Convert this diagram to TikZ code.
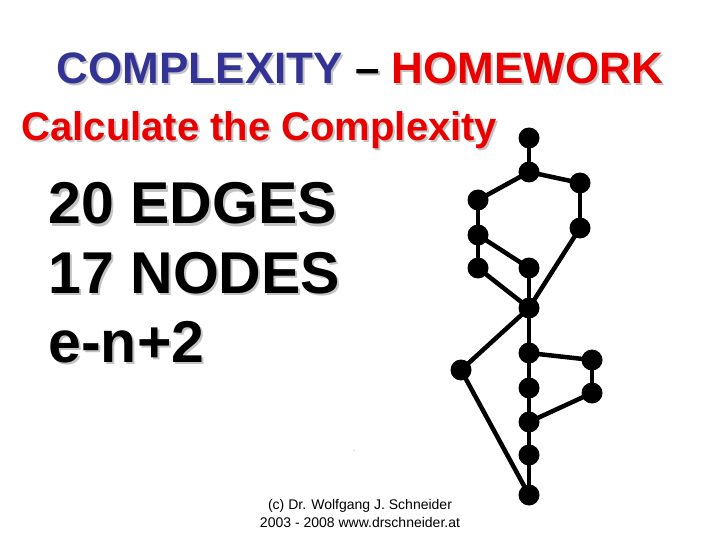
\documentclass[tikz,border=0pt]{standalone}
\usepackage{fontspec}
\setmainfont{Liberation Sans}
\definecolor{titleblue}{RGB}{51,51,150}
\definecolor{titlered}{RGB}{235,0,0}
\definecolor{shadowgray}{RGB}{195,195,195}
\makeatletter
\newcommand{\tcol}[2]{{\color{#1}#2}}
\newcommand{\shadowed}[1]{%
  \rlap{\kern2pt\raisebox{-2pt}{\let\tcol\@secondoftwo\color{shadowgray}#1}}#1}
\makeatother
\begin{document}
\begin{tikzpicture}[x=1pt, y=-1pt,
  dot/.style={circle, fill=black, inner sep=0pt, minimum size=21pt},
  edge/.style={line width=4.5pt},
  titletext/.style={anchor=base, font=\fontsize{44}{44}\bfseries\selectfont},
  subtext/.style={anchor=base west, font=\fontsize{40}{40}\bfseries\selectfont, text=titlered},
  bigtext/.style={anchor=base west, font=\fontsize{59}{59}\bfseries\selectfont},
  foot/.style={anchor=base, font=\fontsize{14}{14}\selectfont}]
\useasboundingbox (0,0) rectangle (720,540);

% headings
\node[titletext] (title) at (360,84)
  {\shadowed{\tcol{titleblue}{COMPLEXITY} -- \tcol{titlered}{HOMEWORK}}};
\node[subtext] (task) at (18,141) {\shadowed{Calculate the Complexity}};

% counts
\node[bigtext] (edges) at (45,224) {\shadowed{20 EDGES}};
\node[bigtext] (nodes) at (45,293) {\shadowed{17 NODES}};
\node[bigtext] (formula) at (45,362) {\shadowed{e-n+2}};

% graph
\foreach \name/\x/\y in {v1/529/138, v2/529/172, v3/580/183, v4/478/200, v5/478/235,
  v6/580/228, v7/478/268, v8/529/268, v9/529/308, v10/529/353, v11/592/360,
  v12/461/370, v13/529/388, v14/592/393, v15/529/422, v16/529/455, v17/529/495}
{
    \node[dot] (\name) at (\x,\y) {};
}
\foreach \a/\b in {v1/v2, v2/v3, v2/v4, v3/v6, v4/v5, v5/v7, v5/v8, v7/v9, v8/v9,
  v6/v9, v9/v12, v9/v10, v10/v11, v11/v14, v10/v13, v13/v15, v14/v15, v15/v16,
  v16/v17, v12/v17}
{
    \draw[edge] (\a.center) -- (\b.center);
}

% footer
\node[font=\fontsize{5}{5}\selectfont] (speck) at (354,451) {.};
\node[foot] (author) at (360,509) {(c) Dr. Wolfgang J. Schneider};
\node[foot] (years) at (360,527) {2003 - 2008 www.drschneider.at};
\end{tikzpicture}
\end{document}
